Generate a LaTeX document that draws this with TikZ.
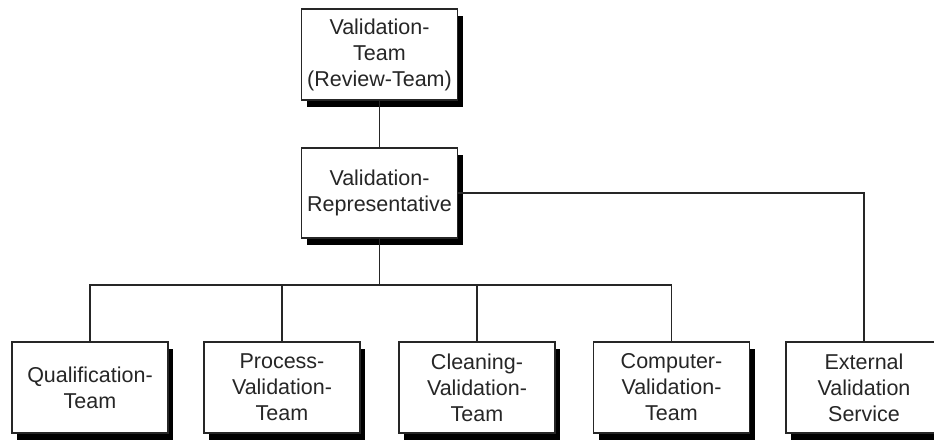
\documentclass[tikz,border=0pt]{standalone}
\usepackage{fontspec}
\setmainfont{Liberation Sans}
\usetikzlibrary{shadows}
\begin{document}
\begin{tikzpicture}[x=1pt,y=-1pt,
  box/.style={draw=black!85, line width=1.6pt, fill=white, inner sep=0pt,
    minimum width=156pt, minimum height=91pt, align=center,
    text=black!85, font=\fontsize{21.5}{26}\selectfont,
    drop shadow={shadow xshift=5pt, shadow yshift=-7pt, fill=black, opacity=1}},
  conn/.style={draw=black!85, line width=1.6pt}]
\clip (0,0) rectangle (934,439);
\useasboundingbox (0,0) rectangle (934,439);
\node[box] (top) at (379.5,54.5) {Validation-\\Team\\(Review-Team)};
\node[box, minimum height=90pt] (mid) at (379.5,193) {Validation-\\Representative};
\node[box] (q) at (90,387.5) {Qualification-\\Team};
\node[box] (p) at (282,387.5) {Process-\\Validation-\\Team};
\node[box] (c) at (477,387.5) {Cleaning-\\Validation-\\Team};
\node[box] (comp) at (671.5,387.5) {Computer-\\Validation-\\Team};
\node[box] (ext) at (864,387.5) {External\\Validation\\Service};
\coordinate (bus) at (379.5,285);
\begin{scope}[on background layer/.try]
\end{scope}
\draw[conn] (top.south) -- (mid.north);
\draw[conn] (mid.south) -- (bus);
\draw[conn] (q.north) -- (q.north |- bus) -- (comp.north |- bus) -- (comp.north);
\draw[conn] (p.north) -- (p.north |- bus);
\draw[conn] (c.north) -- (c.north |- bus);
\draw[conn] (mid.east) -| (ext.north);
\end{tikzpicture}
\end{document}
